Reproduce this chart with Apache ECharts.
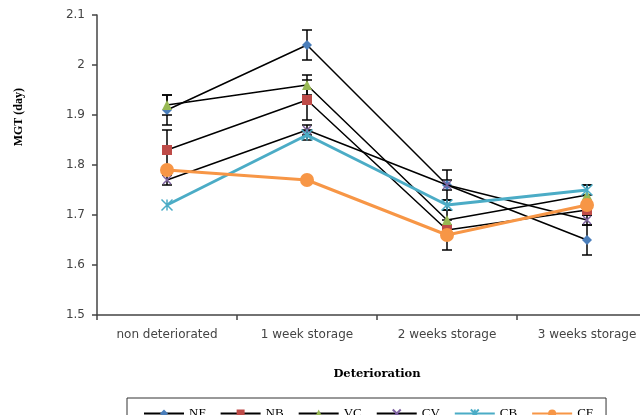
<!DOCTYPE html>
<html><head><meta charset="utf-8">
<script src="https://cdn.jsdelivr.net/npm/echarts@6/dist/echarts.min.js"></script>
<style>html,body{margin:0;padding:0;background:#fff;}#c{width:640px;height:415px;}</style>
</head><body><div id="c"></div>
<script>
const categories = ['non deteriorated', '1 week storage', '2 weeks storage', '3 weeks storage'];
const seriesNames = ['NF', 'NB', 'VC', 'CV', 'CB', 'CF'];
const NF = [1.91, 2.04, 1.76, 1.65];
const NB = [1.83, 1.93, 1.67, 1.71];
const VC = [1.92, 1.96, 1.69, 1.74];
const CV = [1.77, 1.87, 1.76, 1.69];
const CB = [1.72, 1.86, 1.72, 1.75];
const CF = [1.79, 1.77, 1.66, 1.72];
const errNF = [0.03, 0.03, 0.03, 0.03];
const errNB = [0.04, 0.04, 0.01, 0.01];
const errVC = [0.02, 0.02, 0.02, 0.02];
const errCV = [0.01, 0.01, 0.01, 0.01];
const errCB = [0, 0.01, 0.01, 0.01];
const errCF = [0, 0, 0.03, 0];
const yTicks = ['1.5', '1.6', '1.7', '1.8', '1.9', '2', '2.1'];

const values = [NF, NB, VC, CV, CB, CF];
const errs = [errNF, errNB, errVC, errCV, errCB, errCF];

const styles = [
  {sym: 'diamond', size: 10, mc: '#4a7ebb', lc: '#000', lw: 1.5},
  {sym: 'rect', size: 10, mc: '#be4b48', lc: '#000', lw: 1.5},
  {sym: 'triangle', size: 10, mc: '#98b954', lc: '#000', lw: 1.5},
  {sym: 'path://M0,0L10,10M10,0L0,10', size: 8, mc: '#7f63a1', lc: '#000', lw: 1.5, stroke: true},
  {sym: 'path://M0,0L10,10M10,0L0,10M5,0L5,10', size: 11, mc: '#4bacc6', lc: '#4bacc6', lw: 3, stroke: true},
  {sym: 'circle', size: 14, mc: '#f79646', lc: '#f79646', lw: 3}
];

const errData = [];
values.forEach((arr, si) => {
  arr.forEach((v, i) => {
    if (errs[si][i] > 0) errData.push([i, v - errs[si][i], v + errs[si][i]]);
  });
});

const lineSeries = seriesNames.map((name, si) => {
  const s = styles[si];
  return {
    name: name,
    type: 'line',
    data: values[si],
    symbol: s.sym,
    symbolSize: s.size,
    showAllSymbol: true,
    z: 3 + si,
    lineStyle: {color: s.lc, width: s.lw},
    itemStyle: s.stroke ? {color: s.mc, borderColor: s.mc, borderWidth: 1.5} : {color: s.mc, borderWidth: 0},
    emphasis: {disabled: true},
    animation: false
  };
});

const errSeries = {
  type: 'custom',
  name: 'err',
  z: 2,
  animation: false,
  data: errData,
  renderItem: function (params, api) {
    const x = api.value(0);
    const lo = api.coord([x, api.value(1)]);
    const hi = api.coord([x, api.value(2)]);
    const cw = 5;
    const st = {stroke: '#000', lineWidth: 1.5};
    return {type: 'group', children: [
      {type: 'line', shape: {x1: lo[0], y1: lo[1], x2: hi[0], y2: hi[1]}, style: st},
      {type: 'line', shape: {x1: lo[0] - cw, y1: lo[1], x2: lo[0] + cw, y2: lo[1]}, style: st},
      {type: 'line', shape: {x1: hi[0] - cw, y1: hi[1], x2: hi[0] + cw, y2: hi[1]}, style: st}
    ]};
  }
};

const chart = echarts.init(document.getElementById('c'), null, {renderer: 'canvas'});
chart.setOption({
  animation: false,
  backgroundColor: '#fff',
  grid: {left: 97, top: 15, width: 560, height: 300, containLabel: false, outerBoundsMode: 'none'},
  xAxis: {
    type: 'category',
    data: categories,
    boundaryGap: true,
    name: 'Deterioration',
    nameLocation: 'middle',
    nameGap: 53,
    nameTextStyle: {fontFamily: 'DejaVu Serif', fontWeight: 'bold', fontSize: 11.5, color: '#000'},
    axisLine: {lineStyle: {color: '#444', width: 1.5}},
    axisTick: {show: true, length: 5, lineStyle: {color: '#444', width: 1.5}},
    axisLabel: {fontFamily: 'DejaVu Sans', fontSize: 12, color: '#444', margin: 14, interval: 0}
  },
  yAxis: {
    type: 'value',
    min: 1.5, max: 2.1, interval: 0.1,
    axisLine: {show: true, lineStyle: {color: '#444', width: 1.5}},
    axisTick: {show: true, length: 5, lineStyle: {color: '#444', width: 1.5}},
    splitLine: {show: false},
    axisLabel: {fontFamily: 'DejaVu Sans', fontSize: 12, color: '#444', margin: 12,
      formatter: function (v) { const i = Math.round((v - 1.5) * 10); return yTicks[i] !== undefined ? yTicks[i] : v; }}
  },
  legend: {
    data: seriesNames,
    left: 127, top: 398,
    orient: 'horizontal',
    padding: [9, 13, 6, 16],
    itemWidth: 40, itemHeight: 10, itemGap: 14,
    borderColor: '#333', borderWidth: 1,
    textStyle: {fontFamily: 'Liberation Serif', fontSize: 13, color: '#000'},
    selectedMode: false
  },
  graphic: [{
    type: 'text',
    left: 13, top: 88,
    rotation: Math.PI / 2,
    style: {text: 'MGT (day)', fontFamily: 'Liberation Serif', fontWeight: 'bold', fontSize: 12, fill: '#000'}
  }],
  series: [errSeries].concat(lineSeries)
});
</script></body></html>
